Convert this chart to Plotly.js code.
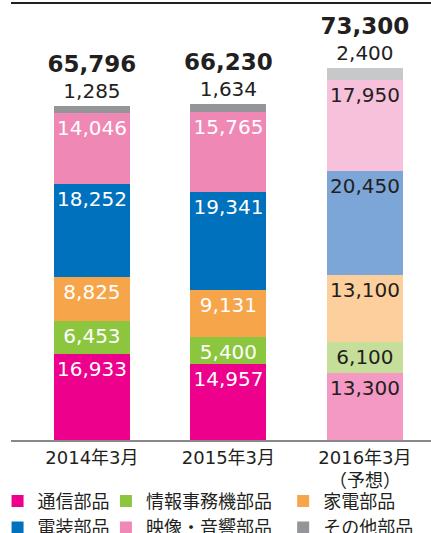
<!DOCTYPE html>
<html>
<head>
<meta charset="utf-8">
<script src="https://cdn.plot.ly/plotly-3.0.1.min.js"></script>
<style>html,body{margin:0;padding:0;background:#fff;}#chart{width:431px;height:533px;}</style>
</head>
<body>
<div id="chart"></div>
<script>
// ---- data ----
const categories = ['2014年3月', '2015年3月', '2016年3月<br>（予想）'];
const seriesNames = ['通信部品', '情報事務機部品', '家電部品', '電装部品', '映像・音響部品', 'その他部品'];
const tsushin   = [16933, 14957, 13300];
const joho      = [6453, 5400, 6100];
const kaden     = [8825, 9131, 13100];
const denso     = [18252, 19341, 20450];
const eizo      = [14046, 15765, 17950];
const sonota    = [1285, 1634, 2400];
const totals    = [65796, 66230, 73300];

// ---- styles ----
const actualColors = ['#EC008C', '#8CC63F', '#F7A54A', '#0071BC', '#F088B6', '#939598'];
const forecastColors = ['#F399C3', '#C5DF9A', '#FDCF9C', '#7DA6D8', '#F7C1DB', '#C7C8CA'];
const dark = '#231F20';
const FONT = 'DejaVu Sans, Noto Sans CJK JP, sans-serif';
const seriesValues = [tsushin, joho, kaden, denso, eizo, sonota];
const legendFor = ['legend', 'legend2', 'legend3', 'legend', 'legend2', 'legend3'];

const traces = seriesValues.map((vals, i) => {
  const isTop = i === seriesValues.length - 1;
  const t = {
    type: 'bar',
    name: seriesNames[i],
    x: categories,
    y: vals,
    width: 0.557,
    legend: legendFor[i],
    marker: { color: [actualColors[i], actualColors[i], forecastColors[i]], line: { width: 0 } },
    cliponaxis: false,
    constraintext: 'none',
    hoverinfo: 'skip'
  };
  if (isTop) {
    t.customdata = totals;
    t.texttemplate = "<b><span style='font-size:23px'>%{customdata:,}</span></b><br>%{y:,}";
    t.textposition = 'outside';
    t.outsidetextfont = { family: FONT, size: 20, color: dark };
  } else {
    t.texttemplate = '%{y:,}';
    t.textposition = 'inside';
    t.insidetextanchor = 'end';
    t.insidetextfont = { family: FONT, size: 20, color: ['#ffffff', '#ffffff', dark] };
  }
  return t;
});

const legendCommon = {
  orientation: 'v', yanchor: 'top', xanchor: 'left', traceorder: 'normal',
  font: { family: FONT, size: 18, color: dark },
  bgcolor: 'rgba(0,0,0,0)', borderwidth: 0, tracegroupgap: 0
};

const layout = {
  width: 431, height: 533,
  margin: { l: 11, r: 0, t: 3, b: 93, autoexpand: false },
  paper_bgcolor: '#fff', plot_bgcolor: '#fff',
  barmode: 'stack',
  showlegend: true,
  font: { family: FONT, color: dark },
  xaxis: {
    range: [-0.593, 2.484],
    showline: true, linecolor: '#888888', linewidth: 2,
    ticks: '', showgrid: false, zeroline: false,
    tickfont: { family: FONT, size: 18, color: dark },
    fixedrange: true
  },
  yaxis: {
    range: [0, 86160],
    visible: false, showgrid: false, zeroline: false, fixedrange: true
  },
  legend: Object.assign({}, legendCommon, { x: -0.032, y: -0.098 }),
  legend2: Object.assign({}, legendCommon, { x: 0.226, y: -0.098 }),
  legend3: Object.assign({}, legendCommon, { x: 0.648, y: -0.098 }),
  shapes: [{
    type: 'line', xref: 'paper', yref: 'paper', x0: 0, x1: 1, y0: 1, y1: 1,
    line: { color: dark, width: 2 }
  }]
};

Plotly.newPlot('chart', traces, layout, { displayModeBar: false, staticPlot: true });
</script>
</body>
</html>
